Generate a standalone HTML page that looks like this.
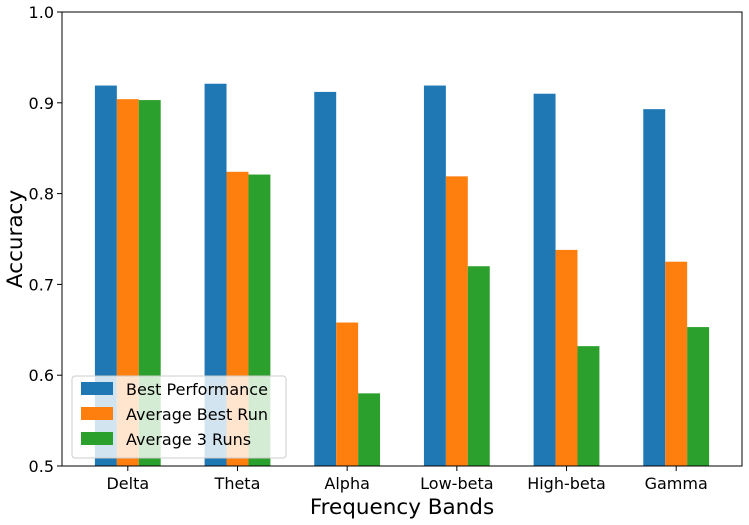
<!DOCTYPE html>
<html><head><meta charset="utf-8"><style>
body{margin:0;background:#fff;font-family:"Liberation Sans","DejaVu Sans",sans-serif}
svg text{font-family:"DejaVu Sans","Liberation Sans",sans-serif}
</style></head><body>
<svg width="749" height="520" xmlns="http://www.w3.org/2000/svg">
<g id="plot"></g>
</svg>
<script>
const categories=["Delta","Theta","Alpha","Low-beta","High-beta","Gamma"];
const bestPerformance=[0.919,0.921,0.912,0.919,0.910,0.893];
const averageBestRun=[0.904,0.824,0.658,0.819,0.738,0.725];
const average3Runs=[0.903,0.821,0.580,0.720,0.632,0.653];
const yTicks=[0.5,0.6,0.7,0.8,0.9,1.0];
const seriesNames=["Best Performance","Average Best Run","Average 3 Runs"];
const colors=["#1f77b4","#ff7f0e","#2ca02c"];
const ns="http://www.w3.org/2000/svg";
const g=document.getElementById('plot');
const L=62,R=742,T=12,B=466,ymin=0.5,ymax=1.0;
const step=(R-L)/(categories.length-1+1.2);
const xc=i=>L+step*0.6+i*step;
const y=v=>B-(v-ymin)/(ymax-ymin)*(B-T);
function el(t,a){const e=document.createElementNS(ns,t);for(const k in a)e.setAttribute(k,a[k]);g.appendChild(e);return e;}
const series=[bestPerformance,averageBestRun,average3Runs];
const bw=step*0.2;
series.forEach((s,si)=>{s.forEach((v,i)=>{
 const r=el('rect',{x:xc(i)+(si-1.5)*bw,y:y(v),width:bw,height:B-y(v),fill:colors[si]});
 
 
});});
const fr=el('rect',{x:L,y:T,width:R-L,height:B-T,fill:'none',stroke:'#000','stroke-width':1});


yTicks.forEach(t=>{
 el('line',{x1:L-5,x2:L,y1:y(t),y2:y(t),stroke:'#000'});
 const tx=el('text',{x:L-8,y:y(t)+6,'text-anchor':'end','font-size':16});
 tx.textContent=t.toFixed(1);
 
 
});
categories.forEach((c,i)=>{
 el('line',{x1:xc(i),x2:xc(i),y1:B,y2:B+5,stroke:'#000'});
 const tx=el('text',{x:xc(i),y:B+23,'text-anchor':'middle','font-size':16});
 tx.textContent=c;
 
 
});
const xt=el('text',{x:(L+R)/2,y:514,'text-anchor':'middle','font-size':21.5});
xt.textContent='Frequency Bands';


const yt=el('text',{x:0,y:0,'text-anchor':'middle','font-size':21.5,transform:`translate(22,${(T+B)/2}) rotate(-90)`});
yt.textContent='Accuracy';


const lg=el('rect',{x:72,y:376,width:214,height:82,rx:3,fill:'#fff','fill-opacity':0.8,stroke:'#ccc'});


seriesNames.forEach((n,i)=>{
 const yy=389+i*25;
 el('rect',{x:81,y:yy-7,width:32,height:13,fill:colors[i]});
 const tx=el('text',{x:126,y:yy+6,'font-size':16});
 tx.textContent=n;
 
 
});
</script>
</body></html>
